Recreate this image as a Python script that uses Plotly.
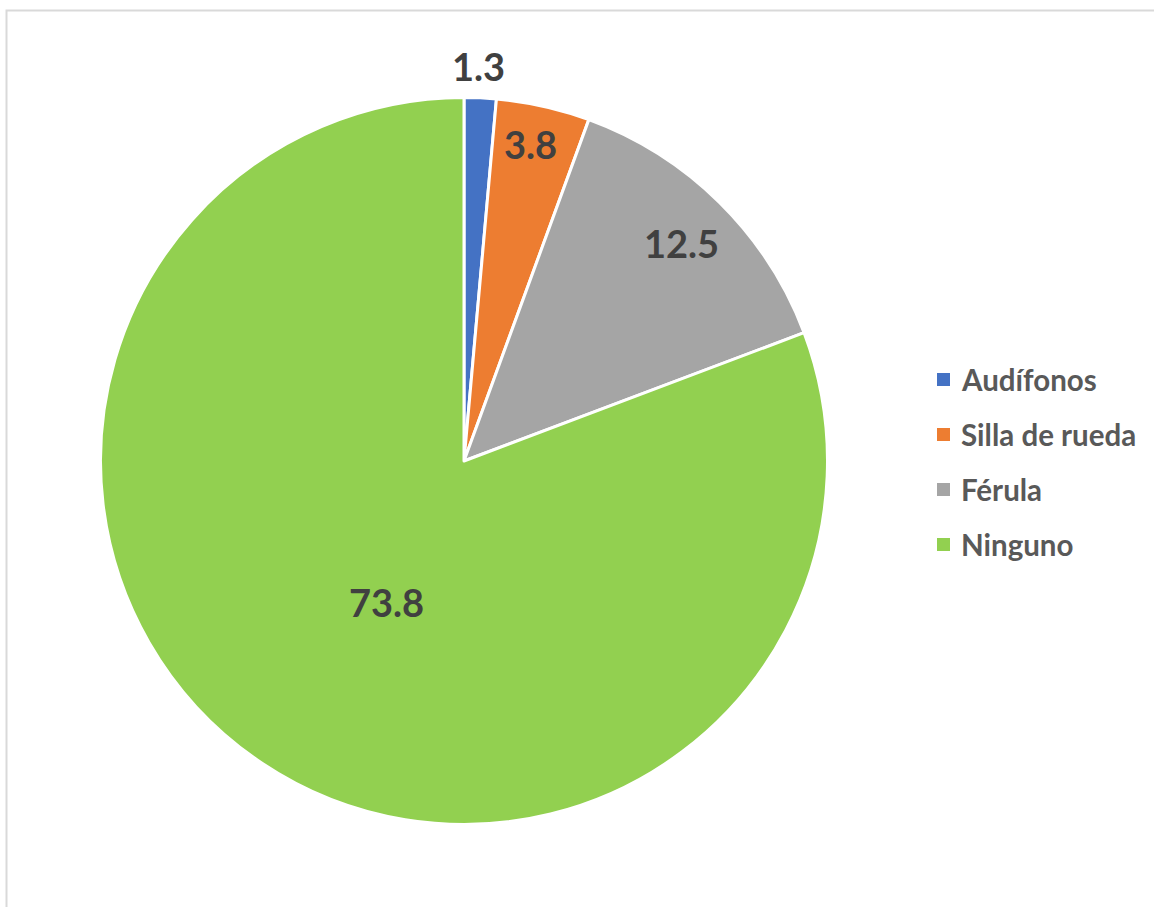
import math
import plotly.graph_objects as go

# Ayudas técnicas utilizadas (%)
categorias = ["Audífonos", "Silla de rueda", "Férula", "Ninguno"]
valores = [1.3, 3.8, 12.5, 73.8]
colores = ["#4472C4", "#ED7D31", "#A5A5A5", "#92D050"]

W, H = 1154, 907
FONT = "Lato, 'Open Sans', sans-serif"

# pie geometry in pixels
cx, cy, R = 464, 461, 363.5

fig = go.Figure(
    go.Pie(
        labels=categorias,
        values=valores,
        sort=False,
        direction="clockwise",
        rotation=0,
        marker=dict(colors=colores, line=dict(color="white", width=3)),
        textinfo="none",
        hoverinfo="label+value",
        showlegend=False,
        domain=dict(
            x=[(cx - R) / W, (cx + R) / W],
            y=[(H - cy - R) / H, (H - cy + R) / H],
        ),
    )
)

# data labels: placed along each slice's bisector
# (radial fraction of R, angular nudge in degrees)
label_pos = [(1.087, -0.5), (0.89, -0.8), (0.846, 0.2), (0.443, -5.9)]
total = sum(valores)
acum = 0.0
for v, (rf, nudge) in zip(valores, label_pos):
    ang = math.radians((acum + v / 2) / total * 360 + nudge)
    acum += v
    px = cx + rf * R * math.sin(ang)
    py = cy - rf * R * math.cos(ang)
    fig.add_annotation(
        xref="paper", yref="paper", x=px / W, y=1 - py / H,
        xanchor="center", yanchor="middle", showarrow=False,
        text=f"<b>{v}</b>",
        font=dict(family=FONT, size=38, color="#404040"),
    )

# chart frame (top and left edges)
fig.add_shape(
    type="rect", xref="paper", yref="paper",
    x0=6.5 / W, x1=1.01, y0=-0.01, y1=1 - 10.5 / H,
    line=dict(color="#D9D9D9", width=2), fillcolor="rgba(0,0,0,0)", layer="below",
)

# legend
leg_x, leg_y0, leg_dy, sq = 943.5, 379.5, 55, 13
for i, (nombre, color) in enumerate(zip(categorias, colores)):
    y = leg_y0 + i * leg_dy
    fig.add_shape(
        type="rect", xref="paper", yref="paper",
        x0=(leg_x - sq / 2) / W, x1=(leg_x + sq / 2) / W,
        y0=1 - (y + sq / 2) / H, y1=1 - (y - sq / 2) / H,
        line=dict(width=0), fillcolor=color,
    )
    fig.add_annotation(
        xref="paper", yref="paper", x=959 / W, y=1 - y / H,
        xanchor="left", yanchor="middle", showarrow=False,
        text=f"<b>{nombre}</b>",
        font=dict(family=FONT, size=29.5, color="#595959"),
    )

fig.update_layout(
    width=W, height=H,
    margin=dict(l=0, r=0, t=0, b=0),
    paper_bgcolor="white",
    plot_bgcolor="white",
)

fig.write_html("out.html")
